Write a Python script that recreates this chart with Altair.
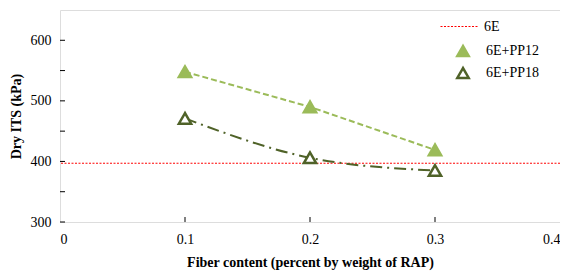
import altair as alt
import pandas as pd

fiber = [0.1, 0.2, 0.3]
pp12 = [548, 490, 419]
pp18 = [471, 406, 385]
base_6e = 397
series_names = ["6E", "6E+PP12", "6E+PP18"]
x_ticks = [0, 0.1, 0.2, 0.3, 0.4]
y_ticks = [300, 400, 500, 600]
y_minor = [350, 450, 550]

FONT = "Liberation Serif"
LIGHT = "#9bbb59"
DARK = "#4f6228"
RED = "#ff0000"
FS = 14

df12 = pd.DataFrame({"x": fiber, "y": pp12, "series": series_names[1]})
df18 = pd.DataFrame({"x": fiber, "y": pp18, "series": series_names[2]})
dfpts = pd.concat([df12, df18])
df6e = pd.DataFrame({"y": [base_6e], "series": [series_names[0]]})
dfyt = pd.DataFrame({"y": y_ticks + y_minor})
dfxt = pd.DataFrame({"x": x_ticks[1:-1]})

xs = alt.Scale(domain=[0, 0.4], nice=False)
ys = alt.Scale(domain=[300, 650], nice=False)

xax = alt.Axis(values=x_ticks, format="~g", ticks=False, domain=False, grid=False,
               labelFont=FONT, labelFontSize=FS, labelColor="#000", labelPadding=10,
               title="Fiber content (percent by weight of RAP)", titleFont=FONT,
               titleFontSize=FS, titleFontWeight="bold", titleColor="#000", titlePadding=9)
yax = alt.Axis(values=y_ticks, ticks=False, domain=False, grid=False,
               labelFont=FONT, labelFontSize=FS, labelColor="#000", labelPadding=9,
               title="Dry ITS  (kPa)", titleFont=FONT, titleFontSize=FS,
               titleFontWeight="bold", titleColor="#000", titlePadding=7)

rule6e = alt.Chart(df6e).mark_rule(strokeDash=[2, 1.5], strokeWidth=1).encode(
    y=alt.Y("y:Q", scale=ys, axis=yax),
    stroke=alt.Stroke("series:N", scale=alt.Scale(domain=[series_names[0]], range=[RED]),
                      legend=alt.Legend(title=None, orient="none", legendX=380, legendY=-3,
                                        symbolType="stroke", symbolDash=[2, 1.5],
                                        symbolStrokeWidth=1, symbolSize=1444,
                                        labelFont=FONT, labelFontSize=FS, labelColor="#000",
                                        labelOffset=5)),
)

line12 = alt.Chart(df12).mark_line(color=LIGHT, strokeWidth=2, strokeDash=[6, 3]).encode(
    x=alt.X("x:Q", scale=xs, axis=xax), y=alt.Y("y:Q", scale=ys))
line18 = alt.Chart(df18).mark_line(color=DARK, strokeWidth=2, strokeDash=[12, 5, 2, 5],
                                   interpolate="monotone").encode(
    x=alt.X("x:Q", scale=xs), y=alt.Y("y:Q", scale=ys))

leg2 = alt.Legend(title=None, orient="none", legendX=396, legendY=34,
                  symbolSize=130, symbolStrokeWidth=2.5, symbolType="triangle-up",
                  labelFont=FONT, labelFontSize=FS, labelColor="#000",
                  labelOffset=16, rowPadding=2)
pts = alt.Chart(dfpts).mark_point(shape="triangle-up", size=150, strokeWidth=2.5, opacity=1).encode(
    x=alt.X("x:Q", scale=xs), y=alt.Y("y:Q", scale=ys),
    fill=alt.Fill("series:N", scale=alt.Scale(domain=series_names[1:], range=[LIGHT, "#ffffff"]),
                  legend=leg2),
    stroke=alt.Stroke("series:N", scale=alt.Scale(domain=series_names[1:], range=[LIGHT, DARK]),
                      legend=leg2),
)

yticks = alt.Chart(dfyt).mark_rule(color="#000", strokeWidth=1).encode(
    y=alt.Y("y:Q", scale=ys), x=alt.value(0), x2=alt.value(5))
xticks = alt.Chart(dfxt).mark_rule(color="#000", strokeWidth=1).encode(
    x=alt.X("x:Q", scale=xs), y=alt.value(212), y2=alt.value(207))

chart = alt.layer(rule6e, line12, line18, pts, yticks, xticks).resolve_scale(
    stroke="independent", fill="independent"
).resolve_legend(stroke="independent").properties(
    width=500, height=212,
    autosize=alt.AutoSizeParams(type="none"),
    padding={"left": 52, "top": 2, "right": 0, "bottom": 50},
).configure_view(stroke="#222", strokeWidth=1.2).configure_legend(
    labelFont=FONT, labelFontSize=FS, labelColor="#000"
).configure(background="white", font=FONT)

chart.save("out.html", embed_options={"renderer": "svg", "actions": False})
